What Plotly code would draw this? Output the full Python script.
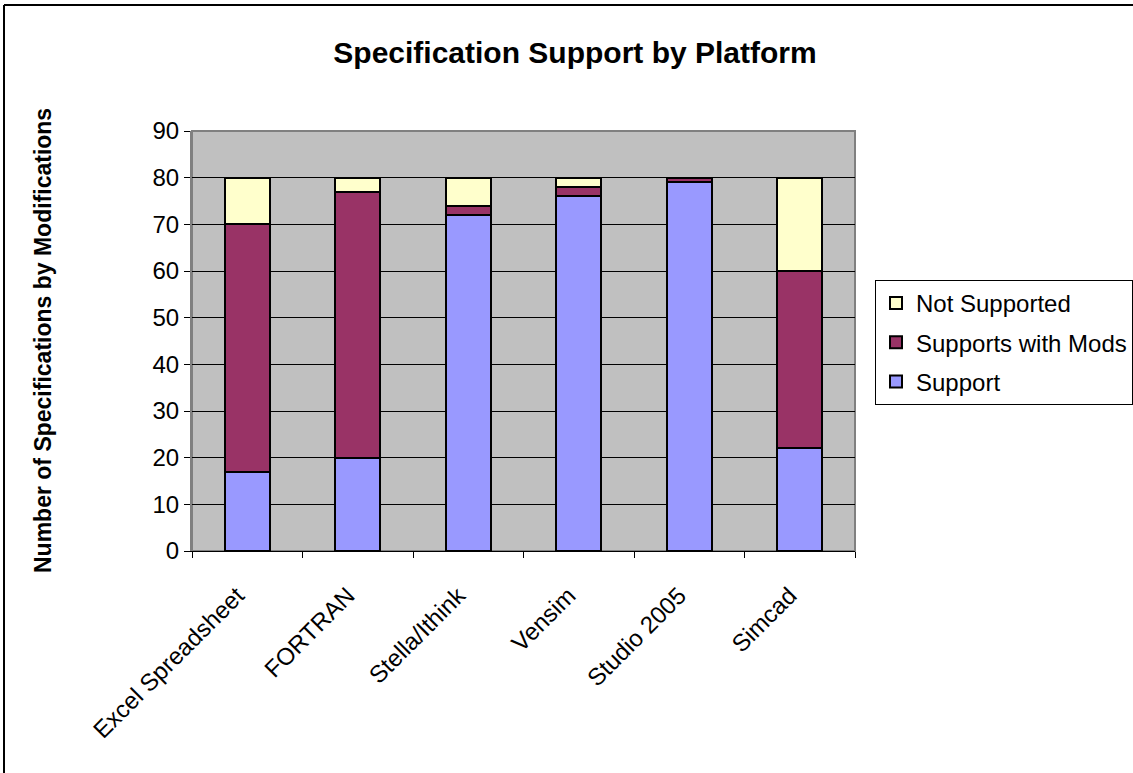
import plotly.graph_objects as go

categories = ["Excel Spreadsheet", "FORTRAN", "Stella/Ithink", "Vensim", "Studio 2005", "Simcad"]
support = [17, 20, 72, 76, 79, 22]
supports_with_mods = [53, 57, 2, 2, 1, 38]
not_supported = [10, 3, 6, 2, 0, 20]

W, H = 1133, 773
L, R, T, B = 192, 855, 131, 551

fig = go.Figure()
line = dict(color="black", width=2)
fig.add_trace(go.Bar(x=categories, y=support, name="Support", legendgroup="a", legendrank=3,
                     marker=dict(color="#9999FF", line=line), width=0.41))
fig.add_trace(go.Bar(x=categories, y=supports_with_mods, name="Supports with Mods", legendgroup="b",
                     legendrank=2, marker=dict(color="#993366", line=line), width=0.41))
fig.add_trace(go.Bar(x=categories, y=not_supported, name="Not Supported", legendgroup="c", legendrank=1,
                     marker=dict(color="#FFFFCC", line=line), width=0.41))

pw, ph = R - L, B - T
def px(x):
    return (x - L) / pw
def py(y):
    return (B - y) / ph

fig.update_layout(
    width=W, height=H,
    margin=dict(l=L, r=W - R, t=T, b=H - B, pad=0, autoexpand=False),
    barmode="stack",
    paper_bgcolor="white",
    plot_bgcolor="#C0C0C0",
    font=dict(family="Liberation Sans, Arial", color="black", size=24),
    title=dict(text="<b>Specification Support by Platform</b>", x=575 / W, xref="container",
               xanchor="center", y=1 - 52 / H, yanchor="middle", font=dict(size=30)),
    showlegend=True,
    legend=dict(
        x=px(875), y=py(280), xanchor="left", yanchor="top",
        bordercolor="black", borderwidth=1, bgcolor="white",
        traceorder="grouped", tracegroupgap=5, font=dict(size=24),
    ),
)
fig.update_xaxes(
    showgrid=False, ticks="outside", tickson="boundaries", ticklen=6, tickcolor="black",
    tickangle=-45, tickfont=dict(size=24), showline=True, linecolor="black", linewidth=1,
    ticklabelstandoff=20, ticklabelshift=-10,
)
fig.update_yaxes(
    range=[0, 90], dtick=10, showgrid=True, gridcolor="black", gridwidth=1,
    ticks="outside", ticklen=6, tickcolor="black", tickfont=dict(size=24),
    showline=True, linecolor="#808080", linewidth=2,
    zeroline=False,
)
# y-axis title
fig.add_annotation(text="<b>Number of Specifications by Modifications</b>", xref="paper", yref="paper",
                   x=px(43), y=0.5, xanchor="center", yanchor="middle", textangle=-90,
                   showarrow=False, font=dict(size=23))
# plot area border (gray)
fig.add_shape(type="rect", xref="paper", yref="paper", x0=0, y0=0, x1=1, y1=1,
              line=dict(color="#808080", width=2), layer="below")
# outer chart border (left and top)
fig.add_shape(type="line", xref="paper", yref="paper", x0=px(4), x1=px(1140), y0=py(5), y1=py(5),
              line=dict(color="black", width=2))
fig.add_shape(type="line", xref="paper", yref="paper", x0=px(4), x1=px(4), y0=py(5), y1=py(780),
              line=dict(color="black", width=2))

fig.write_html("out.html")
